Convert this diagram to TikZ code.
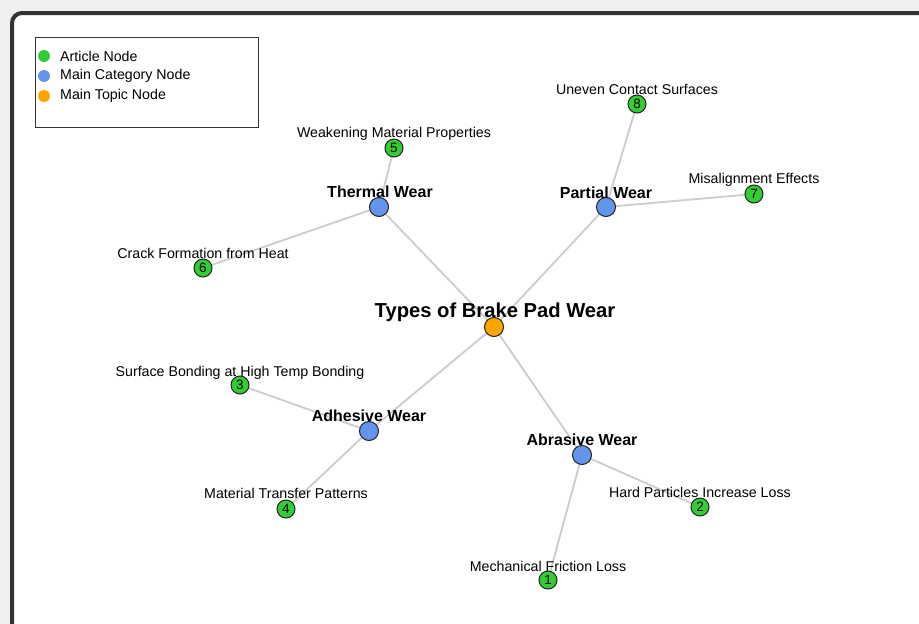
\documentclass[tikz,border=0pt]{standalone}
\usepackage{fontspec}
\setmainfont{Liberation Sans}
\definecolor{pagebg}{HTML}{EFEFEF}
\definecolor{framec}{HTML}{333333}
\definecolor{edgec}{HTML}{CCCCCC}
\definecolor{articlec}{HTML}{32CD32}
\definecolor{categoryc}{HTML}{6495ED}
\definecolor{topicc}{HTML}{FFA500}
\definecolor{strokec}{HTML}{222222}
\tikzset{
  x=1pt, y=-1pt,
  link/.style={draw=edgec, line width=1.8pt},
  dot/.style={circle, draw=strokec, line width=1pt, inner sep=0pt},
  article/.style={dot, fill=articlec, minimum size=18pt, font=\fontsize{13.5}{13.5}\selectfont},
  category/.style={dot, fill=categoryc, minimum size=19pt},
  topic/.style={dot, fill=topicc, minimum size=19pt},
  artlabel/.style={anchor=base, inner sep=0pt, font=\fontsize{14.2}{14.2}\selectfont},
  catlabel/.style={anchor=base, inner sep=0pt, font=\bfseries\fontsize{16}{16}\selectfont},
  toplabel/.style={anchor=base, inner sep=0pt, font=\bfseries\fontsize{20.2}{20.2}\selectfont},
  legdot/.style={circle, fill=#1, minimum size=12pt, inner sep=0pt},
  legtext/.style={anchor=west, inner sep=0pt, font=\fontsize{14.2}{14.2}\selectfont},
}
\begin{document}
\begin{tikzpicture}
\useasboundingbox (0,0) rectangle (919,624);
\fill[pagebg] (0,0) rectangle (919,624);
\fill[white, rounded corners=10pt] (12,13) rectangle (940,650);
\draw[framec, line width=4pt, rounded corners=10pt] (12,13) rectangle (940,650);

% node positions
\coordinate (main) at (494,327);
\coordinate (thermal) at (379,207);
\coordinate (partial) at (606,207);
\coordinate (adhesive) at (369,431);
\coordinate (abrasive) at (582,455);
\coordinate (a1) at (548,580);
\coordinate (a2) at (700,507);
\coordinate (a3) at (240,385);
\coordinate (a4) at (286,509);
\coordinate (a5) at (394,148);
\coordinate (a6) at (203,268);
\coordinate (a7) at (754,194);
\coordinate (a8) at (637,104);

% links, drawn first so the circles sit on top
\path[link] (main) -- (thermal) (main) -- (partial) (main) -- (adhesive) (main) -- (abrasive)
  (abrasive) -- (a1) (abrasive) -- (a2) (adhesive) -- (a3) (adhesive) -- (a4)
  (thermal) -- (a5) (thermal) -- (a6) (partial) -- (a7) (partial) -- (a8);

% circles
\node[topic] (nmain) at (main) {};
\node[category] (nthermal) at (thermal) {};
\node[category] (npartial) at (partial) {};
\node[category] (nadhesive) at (adhesive) {};
\node[category] (nabrasive) at (abrasive) {};
\node[article] (n1) at (a1) {1};
\node[article] (n2) at (a2) {2};
\node[article] (n3) at (a3) {3};
\node[article] (n4) at (a4) {4};
\node[article] (n5) at (a5) {5};
\node[article] (n6) at (a6) {6};
\node[article] (n7) at (a7) {7};
\node[article] (n8) at (a8) {8};

% labels
\node[toplabel] (lmain) at (495,317) {Types of Brake Pad Wear};
\node[catlabel] (lthermal) at (380,197) {Thermal Wear};
\node[catlabel] (lpartial) at (606,198) {Partial Wear};
\node[catlabel] (ladhesive) at (369,421) {Adhesive Wear};
\node[catlabel] (labrasive) at (582,445) {Abrasive Wear};
\node[artlabel] (l1) at (548,571) {Mechanical Friction Loss};
\node[artlabel] (l2) at (700,497) {Hard Particles Increase Loss};
\node[artlabel] (l3) at (240,376) {Surface Bonding at High Temp Bonding};
\node[artlabel] (l4) at (286,498) {Material Transfer Patterns};
\node[artlabel] (l5) at (394,137) {Weakening Material Properties};
\node[artlabel] (l6) at (203,258) {Crack Formation from Heat};
\node[artlabel] (l7) at (754,183) {Misalignment Effects};
\node[artlabel] (l8) at (637,94) {Uneven Contact Surfaces};

% legend
\draw[framec, line width=1pt, fill=white] (35,37) rectangle (258,127);
\node[legdot=articlec] (k1) at (44,56) {};
\node[legdot=categoryc] (k2) at (44,76) {};
\node[legdot=topicc] (k3) at (44,96) {};
\node[legtext] (t1) at (60,56) {Article Node};
\node[legtext] (t2) at (60,76) {Main Category Node};
\node[legtext] (t3) at (60,96) {Main Topic Node};
\end{tikzpicture}
\end{document}
